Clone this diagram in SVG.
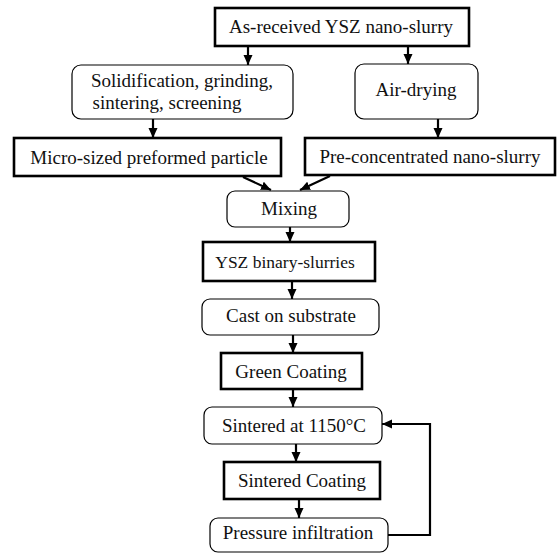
<svg xmlns="http://www.w3.org/2000/svg" width="558" height="553" viewBox="0 0 558 553">
<defs>
<style>
.sq{fill:#fff;stroke:#000;stroke-width:2.6}
.rd{fill:#fff;stroke:#000;stroke-width:1.2}
.t{font-family:"Liberation Serif","Times New Roman",serif;font-size:19px;fill:#111;text-anchor:middle}
.c{fill:none;stroke:#000;stroke-width:2.2}
</style>
<marker id="ah" markerUnits="userSpaceOnUse" markerWidth="10" markerHeight="10" viewBox="0 0 10 10" refX="10" refY="5" orient="auto">
<path d="M0,0.5 L10,5 L0,9.5 Z" fill="#000"/>
</marker>
</defs>
<rect width="558" height="553" fill="#fff"/>
<g id="connectors">
<line class="c" x1="248" y1="46" x2="248" y2="65" marker-end="url(#ah)"/>
<line class="c" x1="408" y1="46" x2="408" y2="64" marker-end="url(#ah)"/>
<line class="c" x1="153" y1="119" x2="153" y2="138" marker-end="url(#ah)"/>
<line class="c" x1="438" y1="119" x2="438" y2="138" marker-end="url(#ah)"/>
<line class="c" x1="243" y1="177" x2="271" y2="190" marker-end="url(#ah)"/>
<line class="c" x1="330" y1="176" x2="300" y2="190" marker-end="url(#ah)"/>
<line class="c" x1="290" y1="227" x2="290" y2="242" marker-end="url(#ah)"/>
<line class="c" x1="292" y1="281" x2="292" y2="299" marker-end="url(#ah)"/>
<line class="c" x1="293" y1="335" x2="293" y2="353" marker-end="url(#ah)"/>
<line class="c" x1="293" y1="389" x2="293" y2="407" marker-end="url(#ah)"/>
<line class="c" x1="296" y1="444" x2="296" y2="462" marker-end="url(#ah)"/>
<line class="c" x1="299" y1="499" x2="299" y2="518" marker-end="url(#ah)"/>
<polyline class="c" points="388,535 430,535 430,424 382,424" marker-end="url(#ah)"/>
</g>
<g id="as-received">
<rect class="sq" x="215" y="8" width="254" height="38"/>
<text class="t" x="341" y="33">As-received YSZ nano-slurry</text>
</g>
<g id="solidification">
<rect class="rd" x="72" y="65" width="221" height="54" rx="9"/>
<text class="t" x="182" y="87">Solidification, grinding,</text>
<text class="t" x="167" y="109">sintering, screening</text>
</g>
<g id="air-drying">
<rect class="rd" x="355" y="64" width="123" height="55" rx="9"/>
<text class="t" x="416" y="96">Air-drying</text>
</g>
<g id="micro-sized">
<rect class="sq" x="14" y="138" width="267" height="38"/>
<text class="t" x="149" y="164">Micro-sized preformed particle</text>
</g>
<g id="pre-concentrated">
<rect class="sq" x="305" y="138" width="250" height="37"/>
<text class="t" x="430" y="163">Pre-concentrated nano-slurry</text>
</g>
<g id="mixing">
<rect class="rd" x="227" y="191" width="122" height="36" rx="8"/>
<text class="t" x="289" y="215">Mixing</text>
</g>
<g id="binary-slurries">
<rect class="sq" x="203" y="242" width="172" height="39"/>
<text class="t" x="285" y="268" style="font-size:17.5px">YSZ binary-slurries</text>
</g>
<g id="cast">
<rect class="rd" x="202" y="299" width="177" height="36" rx="8"/>
<text class="t" x="291" y="322">Cast on substrate</text>
</g>
<g id="green">
<rect class="sq" x="221" y="353" width="141" height="36"/>
<text class="t" x="291" y="378">Green Coating</text>
</g>
<g id="sintered-1150">
<rect class="rd" x="204" y="407" width="178" height="37" rx="8"/>
<text class="t" x="294" y="432">Sintered at 1150°C</text>
</g>
<g id="sintered-coating">
<rect class="sq" x="224" y="462" width="156" height="37"/>
<text class="t" x="302" y="487">Sintered Coating</text>
</g>
<g id="pressure">
<rect class="rd" x="210" y="518" width="178" height="34" rx="8"/>
<text class="t" x="298" y="539">Pressure infiltration</text>
</g>
</svg>
